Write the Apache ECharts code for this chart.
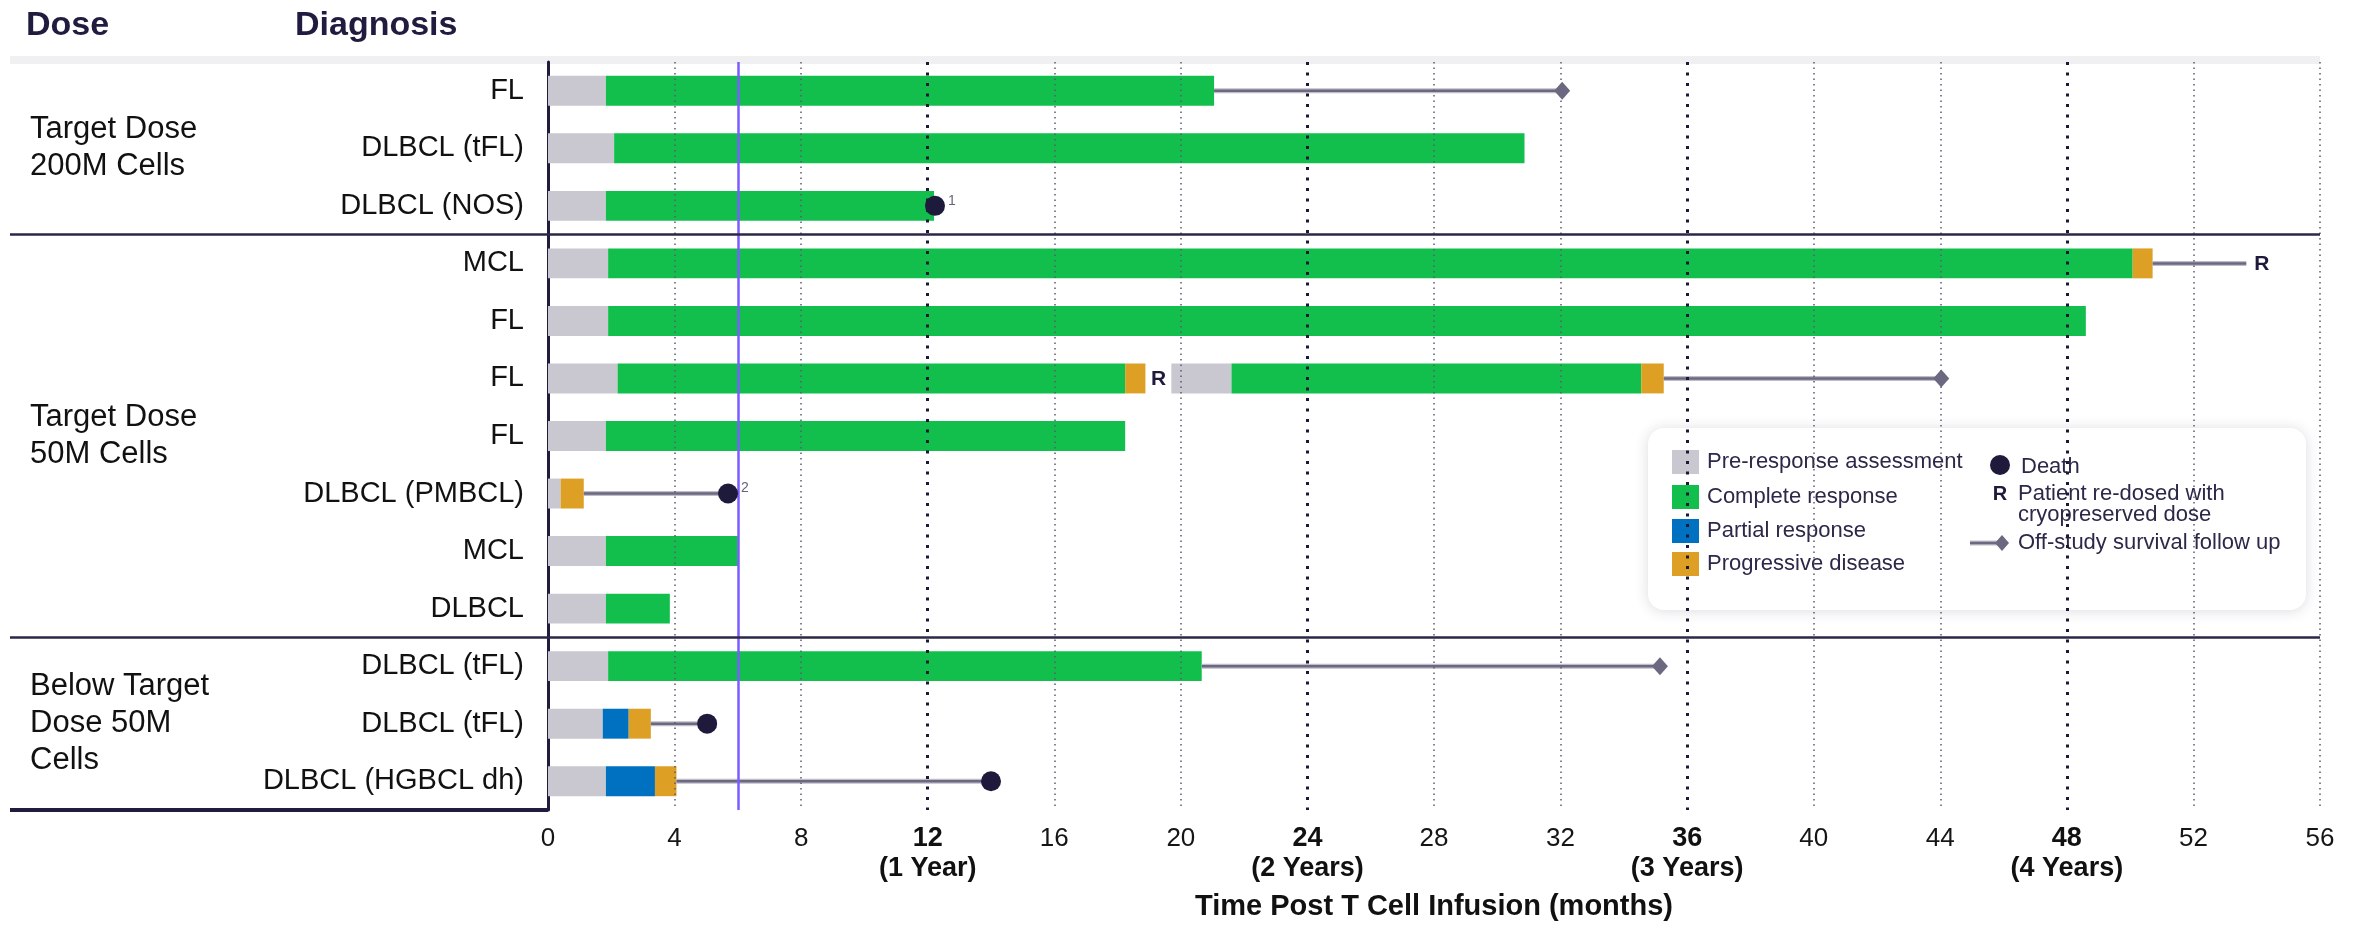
<!DOCTYPE html>
<html>
<head>
<meta charset="utf-8">
<script src="https://cdn.jsdelivr.net/npm/echarts@6/dist/echarts.min.js"></script>
<style>
  html, body { margin: 0; padding: 0; background: #ffffff; }
  #chart { width: 2364px; height: 928px; }
</style>
</head>
<body>
<div id="chart"></div>
<script>
// Patient rows, top to bottom
const categories = ['FL', 'DLBCL (tFL)', 'DLBCL (NOS)', 'MCL', 'FL', 'FL', 'FL',
  'DLBCL (PMBCL)', 'MCL', 'DLBCL', 'DLBCL (tFL)', 'DLBCL (tFL)', 'DLBCL (HGBCL dh)'];

// Response segments: [row, start month, end month]
const preResponse = [[0, 0, 1.83], [1, 0, 2.09], [2, 0, 1.83], [3, 0, 1.9], [4, 0, 1.9],
  [5, 0, 2.2], [5, 19.7, 21.6], [6, 0, 1.83], [7, 0, 0.4], [8, 0, 1.83], [9, 0, 1.83],
  [10, 0, 1.9], [11, 0, 1.73], [12, 0, 1.83]];
const completeResponse = [[0, 1.83, 21.05], [1, 2.09, 30.86], [2, 1.83, 12.2], [3, 1.9, 50.08],
  [4, 1.9, 48.6], [5, 2.2, 18.24], [5, 21.6, 34.55], [6, 1.83, 18.24], [8, 1.83, 6.0],
  [9, 1.83, 3.85], [10, 1.9, 20.66]];
const partialResponse = [[11, 1.73, 2.55], [12, 1.83, 3.38]];
const progressiveDisease = [[3, 50.08, 50.71], [5, 18.24, 18.88], [5, 34.55, 35.26],
  [7, 0.4, 1.13], [11, 2.55, 3.25], [12, 3.38, 4.06]];

// Off-study follow-up: [row, start month, end month]
const followUp = [[0, 21.05, 32.05], [3, 50.71, 53.67], [5, 35.26, 44.03], [7, 1.13, 5.69],
  [10, 20.66, 35.14], [11, 3.25, 5.03], [12, 4.06, 14.0]];
// Last survival contact: [row, month]
const survivalEnd = [[0, 32.05], [5, 44.03], [10, 35.14]];
// Deaths: [row, month, footnote]
const deaths = [[2, 12.23, '1'], [7, 5.69, '2'], [11, 5.03, ''], [12, 14.0, '']];
// Re-dosing with cryopreserved dose: [row, month]
const redosed = [[3, 54.16], [5, 19.3]];

// Dose groups: label lines, first row, last row
const groupLabels = [['Target Dose', '200M Cells'], ['Target Dose', '50M Cells'], ['Below Target', 'Dose 50M', 'Cells']];
const groupFirstRow = [0, 3, 10];
const groupLastRow = [2, 9, 12];

// Time axis
const minorGrid = [4, 8, 16, 20, 28, 32, 40, 44, 52, 56];
const yearMarks = [12, 24, 36, 48];
const yearNames = ['(1 Year)', '(2 Years)', '(3 Years)', '(4 Years)'];
const referenceMonth = 6;

const FONT = "'Liberation Sans', Arial, sans-serif";
const NAVY = '#1f1c3d';
const COLORS = {
  pre: '#c9c7cf',
  cr: '#12bf4c',
  pr: '#0071c1',
  pd: '#dd9f24',
  death: '#1d1a3b',
  follow: '#6b6880',
  followEdge: '#bebcc9'
};

const chart = echarts.init(document.getElementById('chart'), null, { renderer: 'canvas' });

function segmentSeries(name, data, color) {
  return {
    name: name,
    type: 'custom',
    z: 3,
    encode: { x: [1, 2], y: 0 },
    data: data,
    renderItem: function (params, api) {
      const row = api.value(0);
      const p0 = api.coord([api.value(1), row]);
      const p1 = api.coord([api.value(2), row]);
      const h = api.size([0, 1])[1] * 0.52;
      return {
        type: 'rect',
        shape: { x: p0[0], y: p0[1] - h / 2, width: p1[0] - p0[0], height: h },
        style: { fill: color }
      };
    }
  };
}

const option = {
  animation: false,
  textStyle: { fontFamily: FONT },
  grid: { left: 548, right: 44, top: 62, bottom: 118, containLabel: false },
  xAxis: {
    type: 'value', min: 0, max: 56, interval: 4,
    axisLine: { lineStyle: { color: NAVY, width: 4 } },
    axisTick: { length: 17, lineStyle: { color: NAVY, width: 2 } },
    splitLine: { show: false },
    axisLabel: {
      margin: 14,
      formatter: function (v) {
        const i = yearMarks.indexOf(v);
        return i >= 0 ? '{b|' + v + '}\n{b|' + yearNames[i] + '}' : '{n|' + v + '}';
      },
      rich: {
        n: { fontSize: 26, lineHeight: 30, color: '#151515', fontFamily: FONT },
        b: { fontSize: 27, lineHeight: 30, color: '#111111', fontWeight: 'bold', fontFamily: FONT }
      }
    },
    name: 'Time Post T Cell Infusion (months)',
    nameLocation: 'middle',
    nameGap: 82,
    nameTextStyle: { fontSize: 29, fontWeight: 'bold', color: '#111111', fontFamily: FONT }
  },
  yAxis: {
    type: 'category', data: categories, inverse: true,
    axisLine: { lineStyle: { color: NAVY, width: 3 } },
    axisTick: { alignWithLabel: true, length: 12, lineStyle: { color: NAVY, width: 2 } },
    axisLabel: { margin: 24, fontSize: 29, color: '#111111', fontFamily: FONT },
    splitLine: { show: false }
  },
  series: [
    {
      name: 'grid',
      type: 'line',
      data: [],
      z: 1,
      markLine: {
        silent: true, symbol: 'none', animation: false,
        label: { show: false },
        data: minorGrid.map(v => ({ xAxis: v, lineStyle: { type: [1.5, 4], width: 1.5, color: '#5d5a70' } }))
          .concat(yearMarks.map(v => ({ xAxis: v, lineStyle: { type: [3, 7.5], width: 3, color: '#1c1936' } })))
          .concat([{ xAxis: referenceMonth, lineStyle: { type: 'solid', width: 2.5, color: '#7b5cff' } }])
      }
    },
    segmentSeries('Pre-response assessment', preResponse, COLORS.pre),
    segmentSeries('Complete response', completeResponse, COLORS.cr),
    segmentSeries('Partial response', partialResponse, COLORS.pr),
    segmentSeries('Progressive disease', progressiveDisease, COLORS.pd),
    {
      name: 'Off-study survival follow up',
      type: 'custom',
      z: 4,
      encode: { x: [1, 2], y: 0 },
      data: followUp,
      renderItem: function (params, api) {
        const row = api.value(0);
        const a = api.coord([api.value(1), row]);
        const b = api.coord([api.value(2), row]);
        const shape = { x1: a[0], y1: a[1], x2: b[0], y2: b[1] };
        return {
          type: 'group',
          children: [
            { type: 'line', shape: shape, style: { stroke: COLORS.followEdge, lineWidth: 5 } },
            { type: 'line', shape: shape, style: { stroke: COLORS.follow, lineWidth: 2.5 } }
          ]
        };
      }
    },
    {
      name: 'Survival contact',
      type: 'scatter',
      z: 5,
      symbol: 'diamond',
      symbolSize: [16, 18],
      itemStyle: { color: COLORS.follow, opacity: 1 },
      data: survivalEnd.map(d => [d[1], d[0]])
    },
    {
      name: 'Death',
      type: 'scatter',
      z: 5,
      symbol: 'circle',
      symbolSize: 20,
      itemStyle: { color: COLORS.death, opacity: 1 },
      label: {
        show: true, position: 'right', distance: 3, offset: [0, -5],
        fontSize: 14, color: '#66637a', fontFamily: FONT,
        formatter: p => p.data.note
      },
      data: deaths.map(d => ({ value: [d[1], d[0]], note: d[2] }))
    },
    {
      name: 'Re-dosed',
      type: 'custom',
      z: 5,
      encode: { x: 1, y: 0 },
      data: redosed,
      renderItem: function (params, api) {
        const p = api.coord([api.value(1), api.value(0)]);
        return {
          type: 'text',
          style: {
            text: 'R', x: p[0], y: p[1] + 1, align: 'center', verticalAlign: 'middle',
            fontSize: 21, fontWeight: 'bold', fontFamily: FONT, fill: COLORS.death
          }
        };
      }
    }
  ]
};

chart.setOption(option);

// Frame, group labels, headers and key, placed from the axis scales
function rowY(r) { return chart.convertToPixel({ yAxisIndex: 0 }, r); }
const plotLeft = chart.convertToPixel({ xAxisIndex: 0 }, 0);
const plotRight = chart.convertToPixel({ xAxisIndex: 0 }, 56);
const plotTop = rowY(0) - (rowY(1) - rowY(0)) / 2;
const plotBottom = rowY(categories.length - 1) + (rowY(1) - rowY(0)) / 2;
const frameLeft = 10;

const graphics = [];
graphics.push({
  type: 'rect', z: 0, silent: true,
  shape: { x: frameLeft, y: plotTop - 6, width: plotRight - frameLeft, height: 8 },
  style: { fill: '#f0f0f2' }
});
// group separators
for (let g = 0; g < groupFirstRow.length - 1; g++) {
  const y = (rowY(groupLastRow[g]) + rowY(groupFirstRow[g + 1])) / 2;
  graphics.push({
    type: 'line', z: 6, silent: true,
    shape: { x1: frameLeft, y1: y, x2: plotRight, y2: y },
    style: { stroke: '#2b2847', lineWidth: 2.5 }
  });
}
// extend the time axis baseline to the left margin
graphics.push({
  type: 'line', z: 6, silent: true,
  shape: { x1: frameLeft, y1: plotBottom, x2: plotLeft, y2: plotBottom },
  style: { stroke: NAVY, lineWidth: 4 }
});
// group labels
for (let g = 0; g < groupLabels.length; g++) {
  const cy = (rowY(groupFirstRow[g]) + rowY(groupLastRow[g])) / 2;
  graphics.push({
    type: 'text', z: 6, silent: true,
    style: {
      text: groupLabels[g].join('\n'), x: 30, y: cy, align: 'left', verticalAlign: 'middle',
      fontSize: 31, lineHeight: 37, fontFamily: FONT, fill: '#111111'
    }
  });
}
// column headers
graphics.push({
  type: 'text', z: 6, silent: true,
  style: { text: 'Dose', x: 26, y: 26, verticalAlign: 'middle', fontSize: 34, fontWeight: 'bold', fontFamily: FONT, fill: '#1f1c3f' }
});
graphics.push({
  type: 'text', z: 6, silent: true,
  style: { text: 'Diagnosis', x: 295, y: 26, verticalAlign: 'middle', fontSize: 34, fontWeight: 'bold', fontFamily: FONT, fill: '#1f1c3f' }
});

// key
const key = [];
key.push({
  type: 'rect',
  shape: { x: 1648, y: 428, width: 658, height: 182, r: 16 },
  style: { fill: '#ffffff', shadowBlur: 14, shadowColor: 'rgba(40,40,70,0.16)', shadowOffsetY: 1 }
});
const keyStates = [['Pre-response assessment', COLORS.pre], ['Complete response', COLORS.cr],
  ['Partial response', COLORS.pr], ['Progressive disease', COLORS.pd]];
const keyRowsY = [462, 497, 531, 564];
keyStates.forEach((s, i) => {
  key.push({ type: 'rect', shape: { x: 1672, y: keyRowsY[i] - 12, width: 27, height: 24 }, style: { fill: s[1] } });
  key.push({
    type: 'text',
    style: { text: s[0], x: 1707, y: keyRowsY[i], verticalAlign: 'middle', fontSize: 22, fontFamily: FONT, fill: '#2b2848' }
  });
});
key.push({ type: 'circle', shape: { cx: 2000, cy: 465, r: 10 }, style: { fill: COLORS.death } });
key.push({ type: 'text', style: { text: 'Death', x: 2021, y: 467, verticalAlign: 'middle', fontSize: 22, fontFamily: FONT, fill: '#2b2848' } });
key.push({ type: 'text', style: { text: 'R', x: 2000, y: 494, align: 'center', verticalAlign: 'middle', fontSize: 20, fontWeight: 'bold', fontFamily: FONT, fill: COLORS.death } });
key.push({ type: 'text', style: { text: 'Patient re-dosed with\ncryopreserved dose', x: 2018, y: 504, verticalAlign: 'middle', fontSize: 22, lineHeight: 21, fontFamily: FONT, fill: '#2b2848' } });
key.push({ type: 'line', shape: { x1: 1970, y1: 543, x2: 2002, y2: 543 }, style: { stroke: COLORS.followEdge, lineWidth: 5 } });
key.push({ type: 'line', shape: { x1: 1970, y1: 543, x2: 2002, y2: 543 }, style: { stroke: COLORS.follow, lineWidth: 2.5 } });
key.push({ type: 'polygon', shape: { points: [[2002, 535], [2009, 543], [2002, 551], [1995, 543]] }, style: { fill: COLORS.follow } });
key.push({ type: 'text', style: { text: 'Off-study survival follow up', x: 2018, y: 543, verticalAlign: 'middle', fontSize: 22, fontFamily: FONT, fill: '#2b2848' } });
graphics.push({ type: 'group', z: 100, silent: true, children: key });

chart.setOption({ graphic: graphics });
</script>
</body>
</html>
